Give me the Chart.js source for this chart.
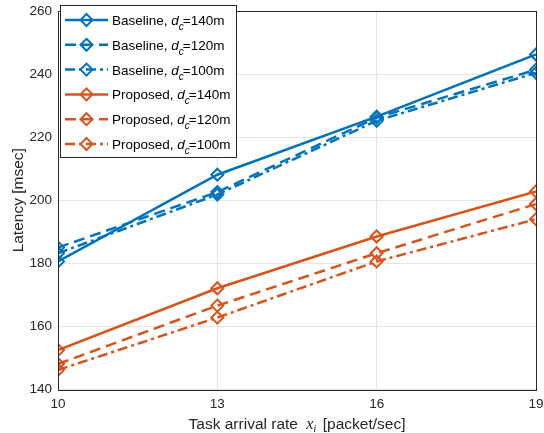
<!DOCTYPE html>
<html>
<head>
<meta charset="utf-8">
<script src="https://cdn.jsdelivr.net/npm/chart.js@4.4.0/dist/chart.umd.min.js"></script>
<style>
  html, body { margin: 0; padding: 0; background: #fff; }
  #wrap { width: 544px; height: 433px; }
</style>
</head>
<body>
<div id="wrap"><canvas id="latencyChart" width="544" height="433"></canvas></div>
<script>
// data
const rates = [10, 13, 16, 19];
const baseline140 = [180.6, 208.1, 226.5, 246.2];
const baseline120 = [185.0, 202.6, 226.2, 241.4];
const baseline100 = [183.2, 201.8, 225.2, 240.4];
const proposed140 = [152.5, 172.1, 188.5, 202.8];
const proposed120 = [148.1, 166.6, 183.2, 198.8];
const proposed100 = [146.2, 162.8, 180.6, 194.0];
const yTicks = [140, 160, 180, 200, 220, 240, 260];
const xTicks = [10, 13, 16, 19];
const seriesNames = ['Baseline', 'Baseline', 'Baseline', 'Proposed', 'Proposed', 'Proposed'];
const distances = ['140m', '120m', '100m', '140m', '120m', '100m'];

const BLUE = '#0072BD';
const ORANGE = '#D95319';
const AXIS = '#262626';
const DASH = [11, 6];
const DASHDOT = [10, 4, 3, 4];
const SANS = '"Liberation Sans", Arial, sans-serif';

function makeSet(label, values, color, dash) {
    return {
        label: label,
        data: values.map((v, i) => ({ x: rates[i], y: v })),
        borderColor: color,
        borderWidth: 2.5,
        borderDash: dash,
        pointStyle: 'rectRot',
        pointRadius: 6,
        pointBorderWidth: 2,
        pointBorderColor: color,
        pointBackgroundColor: 'rgba(0,0,0,0)',
        tension: 0,
        fill: false
    };
}

function drawDiamond(c, x, y, color) {
    c.save();
    c.setLineDash([]);
    c.strokeStyle = color;
    c.lineWidth = 2;
    c.beginPath();
    c.moveTo(x, y - 6);
    c.lineTo(x + 6, y);
    c.lineTo(x, y + 6);
    c.lineTo(x - 6, y);
    c.closePath();
    c.stroke();
    c.restore();
}

// box around the axes, legend, axis titles
const figurePlugin = {
    id: 'figurePlugin',
    afterDraw(chart) {
        const c = chart.ctx;
        const a = chart.chartArea;
        c.save();
        c.strokeStyle = AXIS;
        c.lineWidth = 1;
        c.strokeRect(Math.round(a.left) + 0.5, Math.round(a.top) + 0.5,
            Math.round(a.right - a.left), Math.round(a.bottom - a.top));

        // y-axis title
        c.save();
        c.translate(23, (a.top + a.bottom) / 2);
        c.rotate(-Math.PI / 2);
        c.fillStyle = AXIS;
        c.textAlign = 'center';
        c.textBaseline = 'alphabetic';
        c.font = '15.5px ' + SANS;
        c.fillText('Latency [msec]', 0, 0);
        c.restore();

        // x-axis title with math italic x_i
        const p1 = 'Task arrival rate ';
        const p3 = ' [packet/sec]';
        c.fillStyle = AXIS;
        c.textBaseline = 'alphabetic';
        c.font = '15.5px ' + SANS;
        const w1 = c.measureText(p1).width;
        const w3 = c.measureText(p3).width;
        c.font = 'italic 16px "Liberation Serif", serif';
        const wx = c.measureText('x').width;
        c.font = 'italic 11px "Liberation Serif", serif';
        const wi = c.measureText('i').width;
        const total = w1 + 4 + wx + wi + 2 + w3;
        let tx = (a.left + a.right) / 2 - total / 2;
        const ty = 429;
        c.font = '15.5px ' + SANS;
        c.fillText(p1, tx, ty);
        tx += w1 + 4;
        c.font = 'italic 16px "Liberation Serif", serif';
        c.fillText('x', tx, ty);
        tx += wx;
        c.font = 'italic 11px "Liberation Serif", serif';
        c.fillText('i', tx, ty + 3);
        tx += wi + 2;
        c.font = '15.5px ' + SANS;
        c.fillText(p3, tx, ty);

        // legend
        const lx = 60, ly = 5, lw = 176, lh = 152;
        c.fillStyle = '#ffffff';
        c.fillRect(lx, ly, lw, lh);
        c.strokeStyle = AXIS;
        c.lineWidth = 1;
        c.strokeRect(lx + 0.5, ly + 0.5, lw, lh);
        chart.data.datasets.forEach((ds, i) => {
            const yy = 20 + i * 24.8;
            c.save();
            c.strokeStyle = ds.borderColor;
            c.lineWidth = ds.borderWidth;
            c.setLineDash(ds.borderDash || []);
            c.beginPath();
            c.moveTo(65, yy);
            c.lineTo(108, yy);
            c.stroke();
            c.restore();
            drawDiamond(c, 86.5, yy, ds.borderColor);
            let x = 112;
            const base = yy + 5;
            c.fillStyle = '#000';
            c.font = '13.5px ' + SANS;
            const t1 = seriesNames[i] + ', ';
            c.fillText(t1, x, base);
            x += c.measureText(t1).width;
            c.font = 'italic 13.5px ' + SANS;
            c.fillText('d', x, base);
            x += c.measureText('d').width;
            c.font = 'italic 10px ' + SANS;
            c.fillText('c', x, base + 5);
            x += c.measureText('c').width - 1;
            c.font = '13.5px ' + SANS;
            c.fillText('=' + distances[i], x, base);
        });
        c.restore();
    }
};

const ctx = document.getElementById('latencyChart').getContext('2d');
new Chart(ctx, {
    type: 'line',
    data: {
        datasets: [
            makeSet('Baseline, dc=140m', baseline140, BLUE, []),
            makeSet('Baseline, dc=120m', baseline120, BLUE, DASH),
            makeSet('Baseline, dc=100m', baseline100, BLUE, DASHDOT),
            makeSet('Proposed, dc=140m', proposed140, ORANGE, []),
            makeSet('Proposed, dc=120m', proposed120, ORANGE, DASH),
            makeSet('Proposed, dc=100m', proposed100, ORANGE, DASHDOT)
        ]
    },
    options: {
        responsive: false,
        animation: false,
        layout: { padding: { top: 11, right: 6, left: 0, bottom: 0 } },
        plugins: {
            legend: { display: false },
            tooltip: { enabled: false }
        },
        scales: {
            x: {
                type: 'linear',
                min: 10,
                max: 19,
                afterBuildTicks: (s) => { s.ticks = xTicks.map(v => ({ value: v })); },
                afterFit: (s) => { s.height = 43.5; s.paddingLeft = 0; s.paddingRight = 0; },
                grid: { color: '#e5e5e5', drawTicks: false, lineWidth: 1 },
                border: { display: false },
                ticks: {
                    padding: 7,
                    color: AXIS,
                    font: { family: SANS, size: 13.5 }
                }
            },
            y: {
                min: 140,
                max: 260,
                afterBuildTicks: (s) => { s.ticks = yTicks.map(v => ({ value: v })); },
                afterFit: (s) => { s.width = 58; s.paddingTop = 0; s.paddingBottom = 0; },
                grid: { color: '#e5e5e5', drawTicks: false, lineWidth: 1 },
                border: { display: false },
                ticks: {
                    padding: 6,
                    color: AXIS,
                    font: { family: SANS, size: 13.5 }
                }
            }
        }
    },
    plugins: [figurePlugin]
});
</script>
</body>
</html>
